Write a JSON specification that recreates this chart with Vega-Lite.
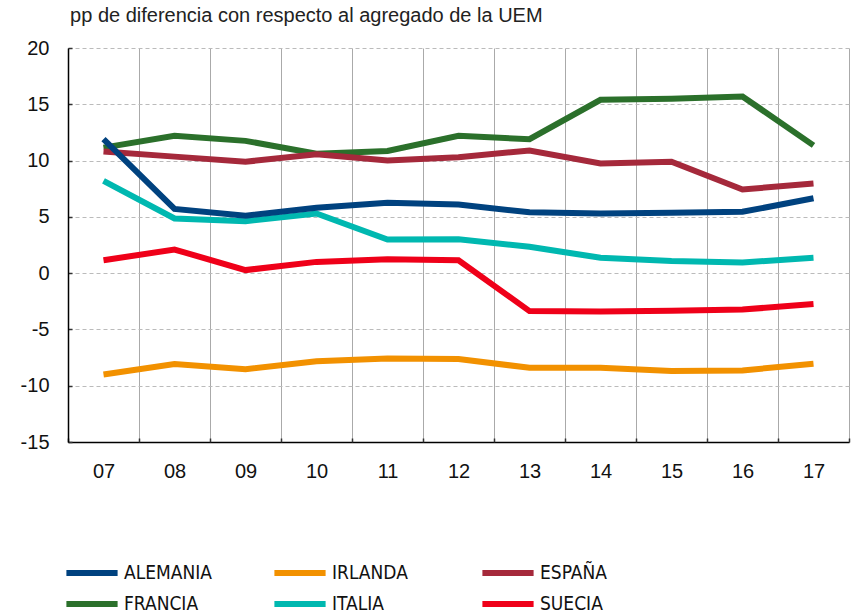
{
  "$schema": "https://vega.github.io/schema/vega-lite/v6.json",
  "width": 781,
  "height": 394,
  "autosize": {"type": "none"},
  "padding": {"left": 68, "top": 48, "right": 5, "bottom": 173},
  "background": "white",
  "title": {
    "text": "pp de diferencia con respecto al agregado de la UEM",
    "anchor": "start",
    "offset": 12,
    "dx": 50,
    "font": "Liberation Sans",
    "fontSize": 20,
    "fontWeight": "normal",
    "color": "#222222"
  },
  "config": {
    "view": {"stroke": null},
    "legend": {"padding": 0}
  },
  "datasets": {
    "series": [
      {"pais": "IRLANDA", "anio": 7, "valor": -9.0},
      {"pais": "IRLANDA", "anio": 8, "valor": -8.08},
      {"pais": "IRLANDA", "anio": 9, "valor": -8.53},
      {"pais": "IRLANDA", "anio": 10, "valor": -7.82},
      {"pais": "IRLANDA", "anio": 11, "valor": -7.58},
      {"pais": "IRLANDA", "anio": 12, "valor": -7.62},
      {"pais": "IRLANDA", "anio": 13, "valor": -8.41},
      {"pais": "IRLANDA", "anio": 14, "valor": -8.41},
      {"pais": "IRLANDA", "anio": 15, "valor": -8.7},
      {"pais": "IRLANDA", "anio": 16, "valor": -8.64},
      {"pais": "IRLANDA", "anio": 17, "valor": -8.05},
      {"pais": "SUECIA", "anio": 7, "valor": 1.15},
      {"pais": "SUECIA", "anio": 8, "valor": 2.1},
      {"pais": "SUECIA", "anio": 9, "valor": 0.27},
      {"pais": "SUECIA", "anio": 10, "valor": 1.0},
      {"pais": "SUECIA", "anio": 11, "valor": 1.24},
      {"pais": "SUECIA", "anio": 12, "valor": 1.15},
      {"pais": "SUECIA", "anio": 13, "valor": -3.37},
      {"pais": "SUECIA", "anio": 14, "valor": -3.4},
      {"pais": "SUECIA", "anio": 15, "valor": -3.35},
      {"pais": "SUECIA", "anio": 16, "valor": -3.23},
      {"pais": "SUECIA", "anio": 17, "valor": -2.75},
      {"pais": "ITALIA", "anio": 7, "valor": 8.2},
      {"pais": "ITALIA", "anio": 8, "valor": 4.86},
      {"pais": "ITALIA", "anio": 9, "valor": 4.62},
      {"pais": "ITALIA", "anio": 10, "valor": 5.3},
      {"pais": "ITALIA", "anio": 11, "valor": 2.99},
      {"pais": "ITALIA", "anio": 12, "valor": 3.02},
      {"pais": "ITALIA", "anio": 13, "valor": 2.34},
      {"pais": "ITALIA", "anio": 14, "valor": 1.36},
      {"pais": "ITALIA", "anio": 15, "valor": 1.07},
      {"pais": "ITALIA", "anio": 16, "valor": 0.95},
      {"pais": "ITALIA", "anio": 17, "valor": 1.36},
      {"pais": "FRANCIA", "anio": 7, "valor": 11.15},
      {"pais": "FRANCIA", "anio": 8, "valor": 12.2},
      {"pais": "FRANCIA", "anio": 9, "valor": 11.75},
      {"pais": "FRANCIA", "anio": 10, "valor": 10.6},
      {"pais": "FRANCIA", "anio": 11, "valor": 10.86},
      {"pais": "FRANCIA", "anio": 12, "valor": 12.2},
      {"pais": "FRANCIA", "anio": 13, "valor": 11.9},
      {"pais": "FRANCIA", "anio": 14, "valor": 15.4},
      {"pais": "FRANCIA", "anio": 15, "valor": 15.5},
      {"pais": "FRANCIA", "anio": 16, "valor": 15.7},
      {"pais": "FRANCIA", "anio": 17, "valor": 11.35},
      {"pais": "ESPAÑA", "anio": 7, "valor": 10.8},
      {"pais": "ESPAÑA", "anio": 8, "valor": 10.35},
      {"pais": "ESPAÑA", "anio": 9, "valor": 9.9},
      {"pais": "ESPAÑA", "anio": 10, "valor": 10.55},
      {"pais": "ESPAÑA", "anio": 11, "valor": 10.0},
      {"pais": "ESPAÑA", "anio": 12, "valor": 10.3},
      {"pais": "ESPAÑA", "anio": 13, "valor": 10.9},
      {"pais": "ESPAÑA", "anio": 14, "valor": 9.75},
      {"pais": "ESPAÑA", "anio": 15, "valor": 9.9},
      {"pais": "ESPAÑA", "anio": 16, "valor": 7.43},
      {"pais": "ESPAÑA", "anio": 17, "valor": 7.97},
      {"pais": "ALEMANIA", "anio": 7, "valor": 11.9},
      {"pais": "ALEMANIA", "anio": 8, "valor": 5.7},
      {"pais": "ALEMANIA", "anio": 9, "valor": 5.1},
      {"pais": "ALEMANIA", "anio": 10, "valor": 5.8},
      {"pais": "ALEMANIA", "anio": 11, "valor": 6.25},
      {"pais": "ALEMANIA", "anio": 12, "valor": 6.1},
      {"pais": "ALEMANIA", "anio": 13, "valor": 5.4},
      {"pais": "ALEMANIA", "anio": 14, "valor": 5.3},
      {"pais": "ALEMANIA", "anio": 15, "valor": 5.36},
      {"pais": "ALEMANIA", "anio": 16, "valor": 5.45},
      {"pais": "ALEMANIA", "anio": 17, "valor": 6.65}
    ]
  },
  "resolve": {"axis": {"x": "independent"}},
  "layer": [
    {
      "data": {"name": "series"},
      "mark": {"type": "line", "strokeWidth": 6, "strokeJoin": "miter", "strokeCap": "butt"},
      "encoding": {
        "x": {
          "field": "anio",
          "type": "quantitative",
          "scale": {"domain": [6.5, 17.5], "nice": false, "zero": false},
          "axis": {
            "orient": "bottom",
            "title": null,
            "values": [7, 8, 9, 10, 11, 12, 13, 14, 15, 16, 17],
            "labelExpr": "datum.value < 10 ? '0' + datum.value : '' + datum.value",
            "labelOverlap": false,
            "labelFlush": false,
            "labelFont": "Liberation Sans",
            "labelFontSize": 20,
            "labelColor": "#111111",
            "labelPadding": 19,
            "ticks": false,
            "grid": false,
            "domainColor": "#000000",
            "domainWidth": 1.5
          }
        },
        "y": {
          "field": "valor",
          "type": "quantitative",
          "scale": {"domain": [-15, 20], "nice": false, "zero": false},
          "axis": {
            "title": null,
            "values": [-15, -10, -5, 0, 5, 10, 15, 20],
            "labelExpr": "'' + datum.value",
            "labelFont": "Liberation Sans",
            "labelFontSize": 20,
            "labelColor": "#111111",
            "labelPadding": 23,
            "ticks": true,
            "tickSize": -4,
            "tickColor": "#333333",
            "tickWidth": 1.5,
            "domainColor": "#000000",
            "domainWidth": 1.5,
            "grid": true,
            "gridColor": "#bbbbbb",
            "gridDash": [4, 3],
            "gridWidth": 1
          }
        },
        "color": {
          "field": "pais",
          "type": "nominal",
          "scale": {
            "domain": ["ALEMANIA", "IRLANDA", "ESPAÑA", "FRANCIA", "ITALIA", "SUECIA"],
            "range": ["#00427f", "#f29100", "#a5293b", "#2b702b", "#00b8b0", "#ef0019"]
          },
          "legend": {
            "title": null,
            "orient": "none",
            "legendX": 5,
            "legendY": 506,
            "direction": "horizontal",
            "columns": 3,
            "gridAlign": "all",
            "columnPadding": 50,
            "rowPadding": 0,
            "symbolType": "M-1.6,0H1.6",
            "symbolSize": 1024,
            "symbolStrokeWidth": 6,
            "symbolFillColor": "transparent",
            "labelFont": "Liberation Sans Narrow, DejaVu Sans Condensed, sans-serif",
            "labelFontSize": 19,
            "labelColor": "#111111",
            "labelOffset": 13,
            "labelLimit": 300
          }
        }
      }
    },
    {
      "mark": {"type": "rule", "color": "#000000", "strokeWidth": 1},
      "encoding": {
        "x": {
          "datum": 7,
          "type": "quantitative",
          "axis": {
            "orient": "bottom",
            "title": null,
            "values": [6.5, 7.5, 8.5, 9.5, 10.5, 11.5, 12.5, 13.5, 14.5, 15.5, 16.5, 17.5],
            "labels": false,
            "ticks": true,
            "tickSize": -4,
            "tickColor": "#333333",
            "tickWidth": 1.5,
            "domain": false,
            "grid": true,
            "gridColor": "#aaaaaa",
            "gridWidth": 1
          }
        },
        "x2": {"datum": 17},
        "y": {"datum": 0, "type": "quantitative"}
      }
    }
  ]
}
